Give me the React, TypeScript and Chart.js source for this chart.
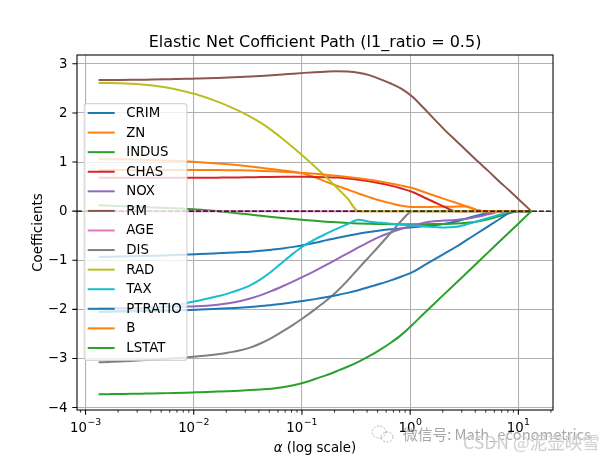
import React, { useEffect, useRef } from 'react';
import { Chart, registerables } from 'chart.js';

Chart.register(...registerables);

const FONT = '"DejaVu Sans", "Liberation Sans", sans-serif';
const CJK = '"Noto Sans CJK SC", "DejaVu Sans", sans-serif';

// alpha grid (x values, log-spaced path)
const alphas = [0.00132, 0.00166, 0.00209, 0.00264, 0.00332, 0.00418, 0.00526, 0.00662, 0.00834, 0.0105,
  0.0132, 0.0166, 0.0209, 0.0264, 0.0332, 0.0418, 0.0526, 0.0662, 0.0834, 0.105,
  0.132, 0.166, 0.209, 0.264, 0.332, 0.418, 0.526, 0.662, 0.834, 1.05,
  1.32, 1.66, 2.09, 2.64, 3.32, 4.18, 5.26, 6.62, 8.34, 10.5, 13.2];

const featureNames = ['CRIM', 'ZN', 'INDUS', 'CHAS', 'NOX', 'RM', 'AGE', 'DIS', 'RAD', 'TAX', 'PTRATIO', 'B', 'LSTAT'];
const featureColors = ['#1f77b4', '#ff7f0e', '#2ca02c', '#d62728', '#9467bd', '#8c564b', '#e377c2', '#7f7f7f', '#bcbd22', '#17becf', '#1f77b4', '#ff7f0e', '#2ca02c'];

const CRIM = [-0.93, -0.928, -0.925, -0.921, -0.916, -0.91, -0.903, -0.895, -0.886, -0.877,
  -0.868, -0.858, -0.848, -0.837, -0.825, -0.807, -0.785, -0.76, -0.728, -0.69,
  -0.645, -0.595, -0.545, -0.5, -0.46, -0.425, -0.395, -0.37, -0.35, -0.33,
  -0.31, -0.287, -0.256, -0.21, -0.15, -0.09, -0.038, 0, 0, 0, 0];
const ZN = [1.06, 1.058, 1.055, 1.051, 1.046, 1.04, 1.033, 1.025, 1.014, 1.002,
  0.988, 0.972, 0.954, 0.933, 0.91, 0.884, 0.856, 0.83, 0.80, 0.76,
  0.69, 0.60, 0.52, 0.44, 0.36, 0.285, 0.215, 0.16, 0.11, 0.085,
  0.085, 0.087, 0.09, 0.092, 0.094, 0.02, 0, 0, 0, 0, 0];
const INDUS = [0.12, 0.111, 0.102, 0.093, 0.084, 0.075, 0.066, 0.057, 0.047, 0.036,
  0.02, 0.0, -0.022, -0.046, -0.07, -0.094, -0.117, -0.139, -0.16, -0.18,
  -0.198, -0.214, -0.228, -0.24, -0.25, -0.258, -0.263, -0.266, -0.267, -0.267,
  -0.266, -0.264, -0.26, -0.252, -0.237, -0.21, -0.165, -0.105, -0.04, 0, 0];
const CHAS = [0.68, 0.68, 0.68, 0.68, 0.68, 0.68, 0.68, 0.68, 0.68, 0.68,
  0.68, 0.682, 0.684, 0.687, 0.69, 0.693, 0.696, 0.698, 0.699, 0.699,
  0.697, 0.692, 0.683, 0.665, 0.64, 0.607, 0.567, 0.52, 0.46, 0.39,
  0.288, 0.186, 0.084, 0, 0, 0, 0, 0, 0, 0, 0];
const NOX = [-1.98, -1.978, -1.975, -1.971, -1.966, -1.961, -1.956, -1.951, -1.945, -1.938,
  -1.925, -1.905, -1.875, -1.835, -1.78, -1.71, -1.625, -1.53, -1.43, -1.325,
  -1.215, -1.10, -0.98, -0.86, -0.74, -0.625, -0.52, -0.435, -0.36, -0.295,
  -0.24, -0.208, -0.19, -0.178, -0.155, -0.115, -0.065, -0.015, 0, 0, 0];
const RM = [2.67, 2.671, 2.672, 2.674, 2.677, 2.68, 2.684, 2.689, 2.694, 2.70,
  2.706, 2.713, 2.721, 2.73, 2.74, 2.752, 2.766, 2.782, 2.80, 2.816,
  2.83, 2.841, 2.848, 2.843, 2.82, 2.77, 2.69, 2.60, 2.49, 2.33,
  2.11, 1.88, 1.65, 1.44, 1.23, 1.02, 0.82, 0.61, 0.41, 0.20, 0];
const AGE = [0, 0, 0, 0, 0, 0, 0, 0, 0, 0,
  0, 0, 0, 0, 0, 0, 0, 0, 0, 0,
  0, 0, 0, 0, 0, 0, 0, 0, 0, 0,
  0, 0, 0, 0, 0, 0, 0, 0, 0, 0, 0];
const DIS = [-3.08, -3.07, -3.06, -3.05, -3.039, -3.026, -3.012, -2.997, -2.98, -2.962,
  -2.94, -2.915, -2.88, -2.84, -2.78, -2.69, -2.58, -2.45, -2.31, -2.16,
  -2.0, -1.83, -1.64, -1.415, -1.17, -0.93, -0.69, -0.44, -0.19, 0,
  0, 0, 0, 0, 0, 0, 0, 0, 0, 0, 0];
const RAD = [2.61, 2.61, 2.605, 2.595, 2.58, 2.557, 2.526, 2.487, 2.438, 2.379,
  2.31, 2.23, 2.139, 2.038, 1.927, 1.797, 1.646, 1.475, 1.291, 1.101,
  0.904, 0.699, 0.484, 0.259, 0, 0, 0, 0, 0, 0,
  0, 0, 0, 0, 0, 0, 0, 0, 0, 0, 0];
const TAX = [-2.05, -2.045, -2.036, -2.022, -2.003, -1.98, -1.952, -1.918, -1.88, -1.83,
  -1.785, -1.735, -1.675, -1.60, -1.51, -1.385, -1.225, -1.04, -0.86, -0.70,
  -0.575, -0.465, -0.362, -0.265, -0.175, -0.215, -0.235, -0.255, -0.275, -0.293,
  -0.31, -0.322, -0.335, -0.32, -0.27, -0.205, -0.14, -0.075, -0.01, 0, 0];
const PTRATIO = [-2.05, -2.048, -2.045, -2.041, -2.037, -2.033, -2.028, -2.022, -2.016, -2.008,
  -1.999, -1.989, -1.978, -1.966, -1.952, -1.934, -1.91, -1.885, -1.857, -1.826,
  -1.792, -1.755, -1.713, -1.665, -1.61, -1.545, -1.48, -1.41, -1.33, -1.243,
  -1.115, -0.987, -0.859, -0.73, -0.59, -0.45, -0.31, -0.17, -0.03, 0, 0];
const B = [0.84, 0.84, 0.84, 0.84, 0.84, 0.84, 0.84, 0.84, 0.84, 0.84,
  0.84, 0.838, 0.835, 0.831, 0.826, 0.82, 0.812, 0.802, 0.79, 0.776,
  0.76, 0.742, 0.72, 0.696, 0.67, 0.64, 0.605, 0.565, 0.52, 0.47,
  0.395, 0.32, 0.245, 0.17, 0.095, 0.02, 0, 0, 0, 0, 0];
const LSTAT = [-3.73, -3.727, -3.724, -3.721, -3.717, -3.713, -3.708, -3.703, -3.697, -3.69,
  -3.683, -3.675, -3.666, -3.656, -3.645, -3.632, -3.615, -3.585, -3.545, -3.49,
  -3.42, -3.345, -3.26, -3.17, -3.07, -2.955, -2.825, -2.68, -2.515, -2.315,
  -2.10, -1.89, -1.68, -1.47, -1.26, -1.05, -0.84, -0.63, -0.42, -0.21, 0];

const coefs = [CRIM, ZN, INDUS, CHAS, NOX, RM, AGE, DIS, RAD, TAX, PTRATIO, B, LSTAT];

// axes
const xMin = 0.000834;
const xMax = 20.9;
const yMin = -4.05;
const yMax = 3.18;
const xMajorTicks = [0.001, 0.01, 0.1, 1, 10];
const xTickExponents = ['−3', '−2', '−1', '0', '1'];
const xMinorMultipliers = [2, 3, 4, 5, 6, 7, 8, 9];
const xMinorDecades = [0.0001, 0.001, 0.01, 0.1, 1, 10];
const yTicks = [-4, -3, -2, -1, 0, 1, 2, 3];
const yTickLabels = ['−4', '−3', '−2', '−1', '0', '1', '2', '3'];

const titleText = 'Elastic Net Cofficient Path (l1_ratio = 0.5)';
const yLabelText = 'Coefficients';
const wmText1 = '微信号: Math_econometrics';
const wmText2 = 'CSDN @泥壶映雪';

export default function App() {
  const ref = useRef<HTMLCanvasElement>(null);

  useEffect(() => {
    const canvas = ref.current!;
    const decor = {
      id: 'decor',
      afterDraw(chart: any) {
        const ctx = chart.ctx as CanvasRenderingContext2D;
        const { left, right, top, bottom } = chart.chartArea;
        const xs = chart.scales.x;
        const ys = chart.scales.y;
        ctx.save();

        // spines
        ctx.strokeStyle = '#000';
        ctx.lineWidth = 1.07;
        ctx.strokeRect(left, top, right - left, bottom - top);

        // major ticks
        ctx.beginPath();
        for (const v of xMajorTicks) {
          const px = xs.getPixelForValue(v);
          ctx.moveTo(px, bottom);
          ctx.lineTo(px, bottom + 4.67);
        }
        for (const v of yTicks) {
          const py = ys.getPixelForValue(v);
          ctx.moveTo(left, py);
          ctx.lineTo(left - 4.67, py);
        }
        ctx.stroke();

        // minor ticks
        ctx.lineWidth = 0.8;
        ctx.beginPath();
        for (const d of xMinorDecades) {
          for (const m of xMinorMultipliers) {
            const v = m * d;
            if (v < xMin || v > xMax) continue;
            const px = xs.getPixelForValue(v);
            ctx.moveTo(px, bottom);
            ctx.lineTo(px, bottom + 2.67);
          }
        }
        ctx.stroke();

        // y tick labels
        ctx.fillStyle = '#000';
        ctx.font = `13.33px ${FONT}`;
        ctx.textAlign = 'right';
        ctx.textBaseline = 'middle';
        yTicks.forEach((v, i) => {
          ctx.fillText(yTickLabels[i], left - 9.5, ys.getPixelForValue(v) + 0.5);
        });

        // x tick labels (10^n)
        ctx.textBaseline = 'alphabetic';
        ctx.textAlign = 'left';
        xMajorTicks.forEach((v, i) => {
          const px = xs.getPixelForValue(v);
          ctx.font = `13.33px ${FONT}`;
          const w1 = ctx.measureText('10').width;
          ctx.font = `9.33px ${FONT}`;
          const w2 = ctx.measureText(xTickExponents[i]).width;
          const x0 = px - (w1 + w2 + 0.5) / 2;
          ctx.font = `13.33px ${FONT}`;
          ctx.fillText('10', x0, bottom + 21.5);
          ctx.font = `9.33px ${FONT}`;
          ctx.fillText(xTickExponents[i], x0 + w1 + 0.5, bottom + 15.2);
        });

        // title
        ctx.font = `16px ${FONT}`;
        ctx.textAlign = 'center';
        ctx.fillText(titleText, (left + right) / 2, top - 8);

        // x label
        ctx.font = `italic 13.33px ${FONT}`;
        const wa = ctx.measureText('α').width;
        ctx.font = `13.33px ${FONT}`;
        const wr = ctx.measureText(' (log scale)').width;
        const xl0 = (left + right) / 2 - (wa + wr) / 2;
        ctx.textAlign = 'left';
        ctx.font = `italic 13.33px ${FONT}`;
        ctx.fillText('α', xl0, 452);
        ctx.font = `13.33px ${FONT}`;
        ctx.fillText(' (log scale)', xl0 + wa, 452);

        // y label
        ctx.save();
        ctx.translate(42, (top + bottom) / 2);
        ctx.rotate(-Math.PI / 2);
        ctx.textAlign = 'center';
        ctx.textBaseline = 'alphabetic';
        ctx.fillText(yLabelText, 0, 0);
        ctx.restore();

        // legend
        const lx = left + 7.2, ly = top + 48.7, lw = 102.7, lh = 256.7;
        ctx.beginPath();
        (ctx as any).roundRect(lx, ly, lw, lh, 3);
        ctx.fillStyle = 'rgba(255,255,255,0.8)';
        ctx.fill();
        ctx.strokeStyle = 'rgba(204,204,204,0.8)';
        ctx.lineWidth = 1.2;
        ctx.stroke();
        ctx.font = `13.33px ${FONT}`;
        ctx.textAlign = 'left';
        ctx.textBaseline = 'middle';
        featureNames.forEach((name, i) => {
          const yy = ly + 9.3 + i * 19.58;
          ctx.strokeStyle = featureColors[i];
          ctx.lineWidth = 2;
          ctx.beginPath();
          ctx.moveTo(lx + 3.5, yy);
          ctx.lineTo(lx + 30.5, yy);
          ctx.stroke();
          ctx.fillStyle = '#000';
          ctx.fillText(name, lx + 42, yy + 0.5);
        });

        // watermark
        ctx.strokeStyle = 'rgba(165,165,165,0.8)';
        ctx.lineWidth = 1;
        ctx.setLineDash([2, 1.5]);
        ctx.beginPath();
        ctx.ellipse(379, 432, 7, 6, 0, 0, Math.PI * 2);
        ctx.stroke();
        ctx.beginPath();
        ctx.ellipse(387, 437, 6, 5, 0, 0, Math.PI * 2);
        ctx.stroke();
        ctx.setLineDash([]);

        ctx.textAlign = 'left';
        ctx.textBaseline = 'alphabetic';
        ctx.font = `14px ${CJK}`;
        const m1 = ctx.measureText(wmText1).width;
        const f1 = 14 * 188 / m1;
        ctx.font = `${f1}px ${CJK}`;
        ctx.fillStyle = 'rgba(145,145,145,0.8)';
        ctx.fillText(wmText1, 403, 439.5);

        ctx.font = `18px ${CJK}`;
        const m2 = ctx.measureText(wmText2).width;
        const f2 = 18 * 137 / m2;
        ctx.font = `${f2}px ${CJK}`;
        ctx.fillStyle = 'rgba(190,190,190,0.85)';
        ctx.fillText(wmText2, 463, 448.5);
        ctx.strokeStyle = 'rgba(235,235,235,0.6)';
        ctx.lineWidth = 0.5;
        ctx.strokeText(wmText2, 463, 448.5);

        ctx.restore();
      },
    };

    const datasets: any[] = featureNames.map((name, i) => ({
      label: name,
      data: alphas.map((a, j) => ({ x: a, y: coefs[i][j] })),
      borderColor: featureColors[i],
      backgroundColor: featureColors[i],
      borderWidth: 2,
      pointRadius: 0,
      cubicInterpolationMode: 'monotone',
      fill: false,
      order: 20 - i,
    }));
    datasets.push({
      label: 'zero',
      data: [{ x: xMin, y: 0 }, { x: xMax, y: 0 }],
      borderColor: '#000000',
      borderWidth: 1.3,
      borderDash: [4.9, 2.1],
      pointRadius: 0,
      fill: false,
      order: 0,
    });

    const chart = new Chart(canvas, {
      type: 'line',
      data: { datasets },
      options: {
        responsive: false,
        devicePixelRatio: 1,
        animation: false,
        parsing: false as any,
        layout: { padding: { left: 0, right: 61, top: 55, bottom: 0 } },
        plugins: { legend: { display: false }, tooltip: { enabled: false }, title: { display: false } },
        scales: {
          x: {
            type: 'logarithmic',
            min: xMin,
            max: xMax,
            bounds: 'data',
            afterBuildTicks: (s: any) => { s.ticks = xMajorTicks.map((v) => ({ value: v })); },
            afterFit: (s: any) => { s.height = 51; },
            ticks: { display: false },
            grid: { color: '#b0b0b0', lineWidth: 1.07, drawTicks: false },
            border: { display: false },
          },
          y: {
            type: 'linear',
            min: yMin,
            max: yMax,
            bounds: 'data',
            afterBuildTicks: (s: any) => { s.ticks = yTicks.map((v) => ({ value: v })); },
            afterFit: (s: any) => { s.width = 77; },
            ticks: { display: false },
            grid: { color: '#b0b0b0', lineWidth: 1.07, drawTicks: false },
            border: { display: false },
          },
        },
      } as any,
      plugins: [decor],
    });
    return () => chart.destroy();
  }, []);

  return (
    <div style={{ position: 'absolute', left: 0, top: 0, width: 614, height: 461, background: '#fff' }}>
      <canvas ref={ref} width={614} height={461} style={{ display: 'block', width: 614, height: 461 }} />
    </div>
  );
}
